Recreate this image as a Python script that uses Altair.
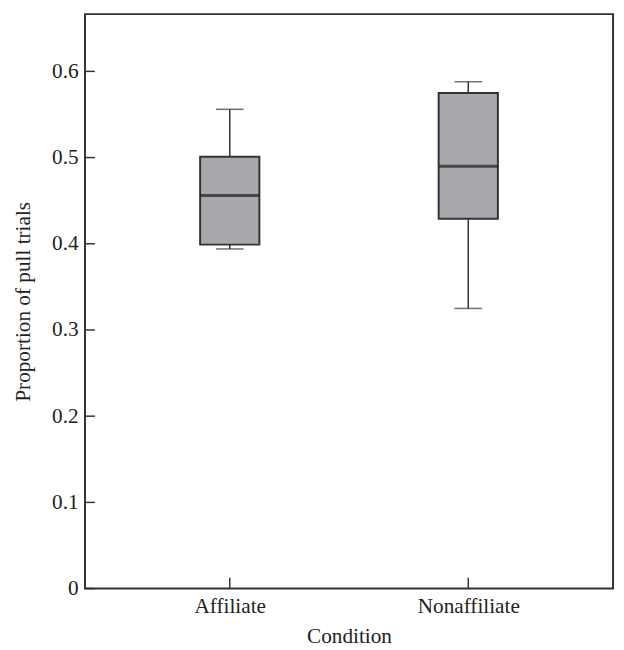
import altair as alt
import pandas as pd

conditions = ["Affiliate", "Nonaffiliate"]
whisker_low = [0.394, 0.325]
q1 = [0.399, 0.429]
median = [0.456, 0.490]
q3 = [0.501, 0.575]
whisker_high = [0.556, 0.588]
y_ticks = [0, 0.1, 0.2, 0.3, 0.4, 0.5, 0.6]

df = pd.DataFrame({
    "Condition": conditions,
    "low": whisker_low,
    "q1": q1,
    "median": median,
    "q3": q3,
    "high": whisker_high,
})
ticks_df = pd.DataFrame({"v": y_ticks})

W, H = 535, 582
FONT = "Liberation Serif"
INK = "#333333"
FS = 21.5

xs = alt.Scale(type="point", padding=0.607, domain=conditions)
ys = alt.Scale(domain=[0, 0.6664], nice=False, zero=True)

x_enc = alt.X(
    "Condition:N", scale=xs,
    axis=alt.Axis(title="Condition", labelPadding=7, titlePadding=9, labelAngle=0),
)
y_axis = alt.Axis(
    title="Proportion of pull trials", values=y_ticks,
    labelExpr="datum.value == 0 ? '0' : format(datum.value, '.1f')",
    labelPadding=7, titlePadding=17,
)

base = alt.Chart(df)

whisk = base.mark_rule(color=INK, strokeWidth=1.5).encode(
    x=x_enc,
    y=alt.Y("low:Q", scale=ys, axis=y_axis),
    y2="high:Q",
)
box = base.mark_bar(size=60, fill="#a8a9ad", stroke=INK, strokeWidth=2).encode(
    x=alt.X("Condition:N", scale=xs),
    y=alt.Y("q1:Q", scale=ys),
    y2="q3:Q",
)
med = base.mark_tick(size=59, thickness=3, color="#1e1e1e").encode(
    x=alt.X("Condition:N", scale=xs),
    y=alt.Y("median:Q", scale=ys),
)
cap_hi = base.mark_tick(size=28, thickness=1.5, color=INK).encode(
    x=alt.X("Condition:N", scale=xs),
    y=alt.Y("high:Q", scale=ys),
)
cap_lo = base.mark_tick(size=28, thickness=1.5, color=INK).encode(
    x=alt.X("Condition:N", scale=xs),
    y=alt.Y("low:Q", scale=ys),
)
ytick = alt.Chart(ticks_df).mark_rule(color=INK, strokeWidth=1.5).encode(
    y=alt.Y("v:Q", scale=ys),
    x=alt.value(0),
    x2=alt.value(10),
)
xtick = base.mark_rule(color=INK, strokeWidth=1.5).encode(
    x=alt.X("Condition:N", scale=xs),
    y=alt.value(H),
    y2=alt.value(H - 11),
)

chart = alt.layer(whisk, box, med, cap_hi, cap_lo, ytick, xtick).properties(
    width=W, height=H,
    autosize=alt.AutoSizeParams(type="none"),
    padding={"left": 78, "top": 2, "right": 3, "bottom": 57},
).configure_view(
    stroke=INK, strokeWidth=2,
).configure_axis(
    grid=False, domain=False, ticks=False,
    labelFont=FONT, labelFontSize=FS, labelColor="#222222",
    titleFont=FONT, titleFontSize=FS, titleFontWeight="normal", titleColor="#222222",
)

chart.save("out.html", embed_options={"renderer": "svg", "actions": False})
